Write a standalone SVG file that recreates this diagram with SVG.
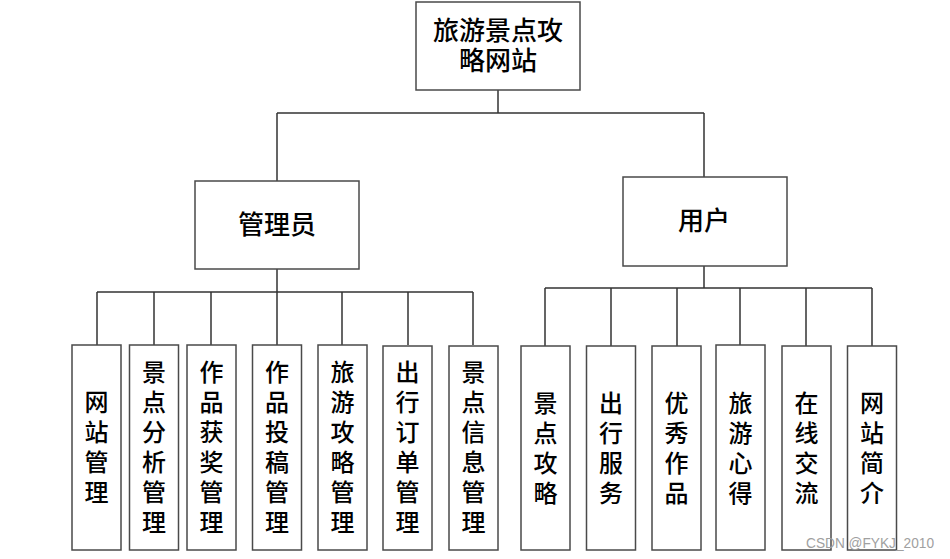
<svg xmlns="http://www.w3.org/2000/svg" width="950" height="559" viewBox="0 0 950 559">
<style>
.box{fill:#fff;stroke:#4a4a4a;stroke-width:1.5}
.ln{fill:none;stroke:#333;stroke-width:1.5}
text{font-family:"Liberation Serif","Noto Sans CJK SC",serif;fill:#000;text-anchor:middle;font-weight:500}
.big{font-size:26px}
.leaf{font-size:24px}
.wm{font-family:"Liberation Sans",Arial,sans-serif;font-size:14px;fill:#a0a0a0;text-anchor:start;font-weight:400}
</style>
<rect width="950" height="559" fill="#fff"/>
<g id="connectors">
<path class="ln" d="M498,90V113M277,113H704M277,113V181M704,113V177"/>
<path class="ln" d="M277,269V292M97,292H473M97,292V345M154,292V345M211,292V345M277,292V345M342,292V345M408,292V345M473,292V345"/>
<path class="ln" d="M704,266V288M545,288H872M545,288V346M611,288V346M677,288V346M740,288V346M806,288V346M872,288V346"/>
</g>
<g id="root"><rect class="box" x="416" y="2" width="164" height="88"/>
<text class="big" x="498" y="40">旅游景点攻</text><text class="big" x="498" y="70">略网站</text></g>
<g id="admin"><rect class="box" x="195" y="181" width="164" height="88"/><text class="big" x="277" y="234">管理员</text></g>
<g id="user"><rect class="box" x="623" y="177" width="164" height="89"/><text class="big" x="704" y="230">用户</text></g>
<g id="a1"><rect class="box" x="72" y="345" width="49" height="205"/><text class="leaf" x="96.5"><tspan x="96.5" y="411">网</tspan><tspan x="96.5" y="441">站</tspan><tspan x="96.5" y="471">管</tspan><tspan x="96.5" y="501">理</tspan></text></g>
<g id="a2"><rect class="box" x="129.5" y="345" width="49" height="205"/><text class="leaf"><tspan x="154" y="381">景</tspan><tspan x="154" y="411">点</tspan><tspan x="154" y="441">分</tspan><tspan x="154" y="471">析</tspan><tspan x="154" y="501">管</tspan><tspan x="154" y="531">理</tspan></text></g>
<g id="a3"><rect class="box" x="187" y="345" width="49" height="205"/><text class="leaf"><tspan x="211.5" y="381">作</tspan><tspan x="211.5" y="411">品</tspan><tspan x="211.5" y="441">获</tspan><tspan x="211.5" y="471">奖</tspan><tspan x="211.5" y="501">管</tspan><tspan x="211.5" y="531">理</tspan></text></g>
<g id="a4"><rect class="box" x="252.5" y="345" width="49" height="205"/><text class="leaf"><tspan x="277" y="381">作</tspan><tspan x="277" y="411">品</tspan><tspan x="277" y="441">投</tspan><tspan x="277" y="471">稿</tspan><tspan x="277" y="501">管</tspan><tspan x="277" y="531">理</tspan></text></g>
<g id="a5"><rect class="box" x="318" y="345" width="49" height="205"/><text class="leaf"><tspan x="342.5" y="381">旅</tspan><tspan x="342.5" y="411">游</tspan><tspan x="342.5" y="441">攻</tspan><tspan x="342.5" y="471">略</tspan><tspan x="342.5" y="501">管</tspan><tspan x="342.5" y="531">理</tspan></text></g>
<g id="a6"><rect class="box" x="383" y="346" width="49" height="204"/><text class="leaf"><tspan x="407.5" y="381">出</tspan><tspan x="407.5" y="411">行</tspan><tspan x="407.5" y="441">订</tspan><tspan x="407.5" y="471">单</tspan><tspan x="407.5" y="501">管</tspan><tspan x="407.5" y="531">理</tspan></text></g>
<g id="a7"><rect class="box" x="449" y="346" width="49" height="204"/><text class="leaf"><tspan x="473.5" y="381">景</tspan><tspan x="473.5" y="411">点</tspan><tspan x="473.5" y="441">信</tspan><tspan x="473.5" y="471">息</tspan><tspan x="473.5" y="501">管</tspan><tspan x="473.5" y="531">理</tspan></text></g>
<g id="u1"><rect class="box" x="521" y="346" width="49" height="204"/><text class="leaf"><tspan x="545.5" y="412">景</tspan><tspan x="545.5" y="442">点</tspan><tspan x="545.5" y="472">攻</tspan><tspan x="545.5" y="502">略</tspan></text></g>
<g id="u2"><rect class="box" x="586.5" y="346" width="49" height="204"/><text class="leaf"><tspan x="611" y="412">出</tspan><tspan x="611" y="442">行</tspan><tspan x="611" y="472">服</tspan><tspan x="611" y="502">务</tspan></text></g>
<g id="u3"><rect class="box" x="652" y="346" width="49" height="204"/><text class="leaf"><tspan x="676.5" y="412">优</tspan><tspan x="676.5" y="442">秀</tspan><tspan x="676.5" y="472">作</tspan><tspan x="676.5" y="502">品</tspan></text></g>
<g id="u4"><rect class="box" x="716" y="345" width="49" height="205"/><text class="leaf"><tspan x="740.5" y="412">旅</tspan><tspan x="740.5" y="442">游</tspan><tspan x="740.5" y="472">心</tspan><tspan x="740.5" y="502">得</tspan></text></g>
<g id="u5"><rect class="box" x="782" y="346" width="49" height="204"/><text class="leaf"><tspan x="806.5" y="412">在</tspan><tspan x="806.5" y="442">线</tspan><tspan x="806.5" y="472">交</tspan><tspan x="806.5" y="502">流</tspan></text></g>
<g id="u6"><rect class="box" x="847.5" y="346" width="49" height="204"/><text class="leaf"><tspan x="872" y="412">网</tspan><tspan x="872" y="442">站</tspan><tspan x="872" y="472">简</tspan><tspan x="872" y="502">介</tspan></text></g>
<text class="wm" x="806" y="548" textLength="128" lengthAdjust="spacingAndGlyphs">CSDN @FYKJ_2010</text>
</svg>
